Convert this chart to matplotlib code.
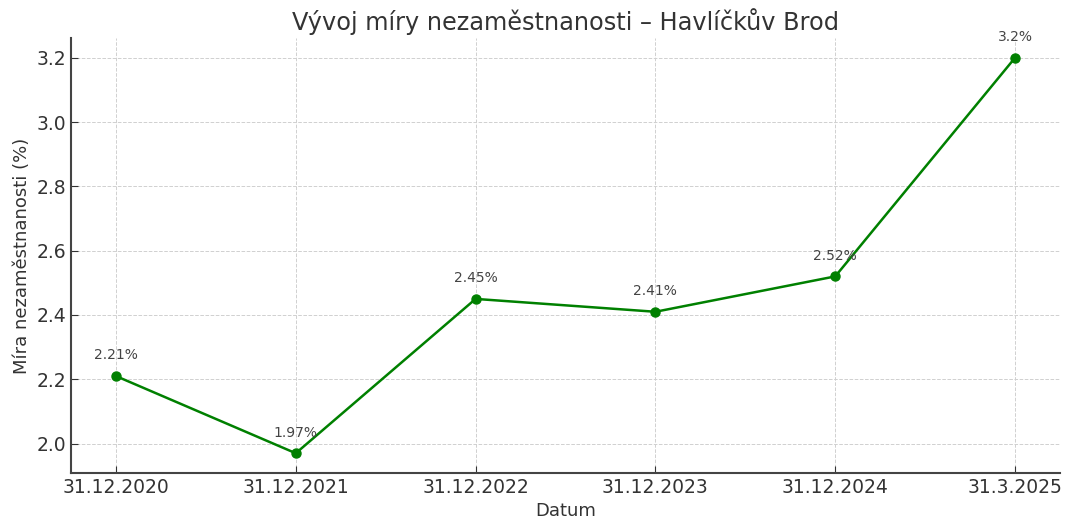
import matplotlib
matplotlib.use("Agg")
import matplotlib.pyplot as plt

dates = ["31.12.2020", "31.12.2021", "31.12.2022", "31.12.2023", "31.12.2024", "31.3.2025"]
rates = [2.21, 1.97, 2.45, 2.41, 2.52, 3.2]
labels = ["2.21%", "1.97%", "2.45%", "2.41%", "2.52%", "3.2%"]

plt.rcParams['font.family'] = ['DejaVu Sans']
fig = plt.figure(figsize=(10.68, 5.19), dpi=100)
ax = fig.add_axes([0.0665, 0.0886, 0.926, 0.8382])

x = list(range(len(dates)))
ax.plot(x, rates, color="green", linewidth=1.8, marker="o", markersize=6.5)
for xi, yi, lab in zip(x, rates, labels):
    ax.annotate(lab, (xi, yi), xytext=(0, 12), textcoords="offset points",
                ha="center", fontsize=10, color="#444444")

ax.set_xticks(x)
ax.set_xticklabels(dates)
ax.set_title("Vývoj míry nezaměstnanosti – Havlíčkův Brod", fontsize=17.3, color="#333333", pad=6)
ax.set_xlabel("Datum", fontsize=13, color="#333333", labelpad=4)
ax.set_ylabel("Míra nezaměstnanosti (%)", fontsize=13, color="#333333")
ax.tick_params(axis="both", labelsize=13.5, colors="#333333", direction="in", length=5)
ax.grid(True, linestyle="--", color="#d0d0d0", linewidth=0.7)
for s in ["top", "right"]:
    ax.spines[s].set_visible(False)
for s in ["left", "bottom"]:
    ax.spines[s].set_color("#444444")
    ax.spines[s].set_linewidth(1.5)

fig.savefig("out.png", dpi=100)
